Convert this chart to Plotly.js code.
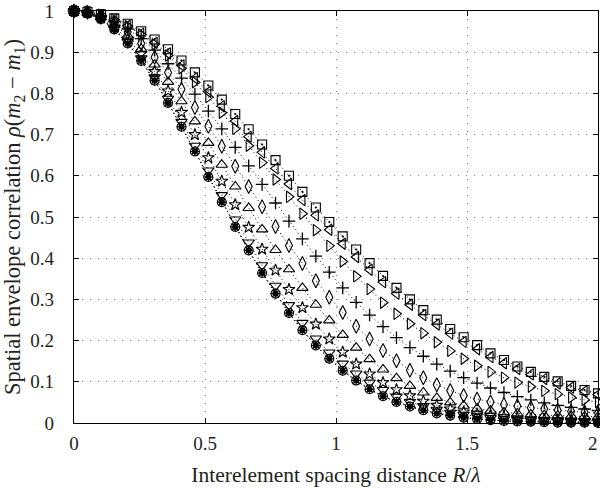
<!DOCTYPE html>
<html>
<head>
<meta charset="utf-8">
<script src="https://cdn.plot.ly/plotly-3.0.1.min.js"></script>
<style>html,body{margin:0;padding:0;background:#fff;}#chart{width:600px;height:491px;}</style>
</head>
<body>
<div id="chart"></div>
<script>
// Interelement spacing R/lambda (40 equally spaced samples from 0 to 2)
var spacing = [0, 0.0513, 0.1026, 0.1538, 0.2051, 0.2564, 0.3077, 0.359, 0.4103, 0.4615,
  0.5128, 0.5641, 0.6154, 0.6667, 0.7179, 0.7692, 0.8205, 0.8718, 0.9231, 0.9744,
  1.0256, 1.0769, 1.1282, 1.1795, 1.2308, 1.2821, 1.3333, 1.3846, 1.4359, 1.4872,
  1.5385, 1.5897, 1.641, 1.6923, 1.7436, 1.7949, 1.8462, 1.8974, 1.9487, 2.0];

// Envelope correlation curves, lowest to highest
var corrCircle = [1, 0.995, 0.98, 0.955, 0.921, 0.879, 0.831, 0.777, 0.719, 0.659,
  0.597, 0.536, 0.476, 0.419, 0.364, 0.314, 0.267, 0.225, 0.188, 0.156,
  0.127, 0.103, 0.082, 0.065, 0.051, 0.04, 0.031, 0.023, 0.018, 0.013,
  0.01, 0.007, 0.005, 0.004, 0.003, 0.002, 0.001, 0.001, 0.001, 0.0];
var corrTriDown = [1, 0.995, 0.981, 0.957, 0.925, 0.885, 0.839, 0.787, 0.731, 0.673,
  0.613, 0.553, 0.494, 0.438, 0.383, 0.333, 0.286, 0.243, 0.205, 0.171,
  0.144, 0.12, 0.098, 0.08, 0.064, 0.051, 0.041, 0.032, 0.025, 0.02,
  0.016, 0.012, 0.009, 0.007, 0.006, 0.005, 0.004, 0.003, 0.003, 0.002];
var corrStar = [1, 0.996, 0.983, 0.961, 0.932, 0.896, 0.853, 0.806, 0.754, 0.7,
  0.644, 0.587, 0.53, 0.475, 0.422, 0.371, 0.324, 0.28, 0.24, 0.204,
  0.172, 0.143, 0.119, 0.098, 0.081, 0.066, 0.053, 0.043, 0.034, 0.027,
  0.022, 0.018, 0.015, 0.012, 0.01, 0.009, 0.008, 0.007, 0.006, 0.005];
var corrTriUp = [1, 0.996, 0.985, 0.966, 0.94, 0.908, 0.87, 0.828, 0.781, 0.732,
  0.68, 0.627, 0.574, 0.522, 0.47, 0.42, 0.373, 0.328, 0.287, 0.249,
  0.214, 0.183, 0.155, 0.13, 0.109, 0.09, 0.074, 0.061, 0.05, 0.042,
  0.035, 0.03, 0.026, 0.023, 0.021, 0.019, 0.018, 0.017, 0.016, 0.015];
var corrDiamond = [1, 0.997, 0.987, 0.971, 0.949, 0.921, 0.888, 0.851, 0.81, 0.766,
  0.72, 0.672, 0.623, 0.574, 0.525, 0.477, 0.431, 0.387, 0.345, 0.305,
  0.268, 0.235, 0.204, 0.176, 0.151, 0.128, 0.11, 0.093, 0.079, 0.067,
  0.058, 0.051, 0.045, 0.041, 0.037, 0.034, 0.031, 0.028, 0.026, 0.024];
var corrPlus = [1, 0.997, 0.989, 0.975, 0.956, 0.933, 0.905, 0.872, 0.837, 0.798,
  0.757, 0.714, 0.669, 0.624, 0.579, 0.534, 0.49, 0.447, 0.405, 0.366,
  0.328, 0.293, 0.262, 0.234, 0.207, 0.183, 0.162, 0.143, 0.126, 0.11,
  0.097, 0.085, 0.074, 0.064, 0.056, 0.049, 0.043, 0.038, 0.034, 0.03];
var corrTriRight = [1, 0.998, 0.991, 0.979, 0.963, 0.943, 0.919, 0.892, 0.861, 0.827,
  0.791, 0.753, 0.714, 0.673, 0.632, 0.591, 0.549, 0.508, 0.468, 0.43,
  0.392, 0.356, 0.325, 0.292, 0.265, 0.241, 0.218, 0.196, 0.175, 0.156,
  0.139, 0.124, 0.11, 0.098, 0.088, 0.078, 0.07, 0.062, 0.056, 0.051];
var corrTriLeft = [1, 0.997, 0.99, 0.979, 0.964, 0.945, 0.923, 0.897, 0.868, 0.837,
  0.804, 0.769, 0.733, 0.695, 0.657, 0.618, 0.58, 0.541, 0.504, 0.469,
  0.435, 0.403, 0.372, 0.342, 0.314, 0.287, 0.262, 0.239, 0.217, 0.197,
  0.179, 0.16, 0.145, 0.131, 0.118, 0.107, 0.096, 0.086, 0.077, 0.069];
var corrSquare = [1, 0.998, 0.992, 0.982, 0.969, 0.951, 0.931, 0.907, 0.88, 0.851,
  0.819, 0.785, 0.75, 0.713, 0.676, 0.638, 0.6, 0.561, 0.523, 0.488,
  0.453, 0.421, 0.388, 0.357, 0.328, 0.3, 0.274, 0.251, 0.228, 0.208,
  0.189, 0.169, 0.153, 0.137, 0.124, 0.112, 0.101, 0.09, 0.08, 0.072];

var xTicks = [0, 0.5, 1, 1.5, 2];
var xTickText = ['0', '0.5', '1', '1.5', ''];
var xLastTickText = '2';
var yTicks = [0, 0.1, 0.2, 0.3, 0.4, 0.5, 0.6, 0.7, 0.8, 0.9, 1];
var yTickText = ['0', '0.1', '0.2', '0.3', '0.4', '0.5', '0.6', '0.7', '0.8', '0.9', '1'];

function series(y, symbol, size, width) {
  return {
    x: spacing, y: y, type: 'scatter', mode: 'lines+markers', cliponaxis: false,
    line: {color: '#000', width: 1, dash: '1px,3px'},
    marker: {symbol: symbol, size: size, color: '#000', line: {color: '#000', width: width || 1.1}},
    hoverinfo: 'skip'
  };
}

var data = [
  series(corrSquare, 'square-open-dot', 9),
  series(corrTriLeft, 'triangle-left-open', 10),
  series(corrTriRight, 'triangle-right-open', 10),
  series(corrPlus, 'cross-thin-open', 9, 1.3),
  series(corrDiamond, 'diamond-tall-open', 10),
  series(corrTriUp, 'triangle-up-open', 10),
  series(corrStar, 'star-open', 9),
  series(corrTriDown, 'triangle-down-open', 10),
  series(corrCircle, 'circle-open', 9),
  series(corrCircle, 'asterisk-open', 8),
  series(corrCircle, 'circle', 5)
];

var fontFam = '"Liberation Serif", "DejaVu Serif", serif';
var txtColor = '#231f20';
var layout = {
  width: 600, height: 491,
  margin: {l: 74, r: 2, t: 11, b: 68},
  paper_bgcolor: '#fff', plot_bgcolor: '#fff',
  showlegend: false,
  font: {family: fontFam, size: 19, color: txtColor},
  xaxis: {
    range: [0, 2], tickvals: xTicks, ticktext: xTickText,
    ticks: 'inside', ticklen: 5, tickcolor: '#000', tickwidth: 1,
    showline: true, linecolor: '#000', linewidth: 1.2, mirror: 'allticks',
    showgrid: true, gridcolor: '#888', gridwidth: 1, griddash: '1px,7px',
    zeroline: false, ticklabelstandoff: 3,
    tickfont: {family: fontFam, size: 19, color: txtColor},
    title: {text: 'Interelement spacing distance <i>R</i>/<i>λ</i>', font: {family: fontFam, size: 21.5, color: txtColor}, standoff: 14}
  },
  yaxis: {
    range: [0, 1], tickvals: yTicks, ticktext: yTickText,
    ticks: 'inside', ticklen: 5, tickcolor: '#000', tickwidth: 1,
    showline: true, linecolor: '#000', linewidth: 1.2, mirror: 'allticks',
    showgrid: true, gridcolor: '#888', gridwidth: 1, griddash: '1px,7px',
    zeroline: false, ticklabelstandoff: 15, ticklabeloverflow: 'allow',
    tickfont: {family: fontFam, size: 19, color: txtColor},
    title: {text: 'Spatial envelope correlation <i>ρ</i>(<i>m</i><sub>2</sub> − <i>m</i><sub>1</sub>)', font: {family: fontFam, size: 22.5, color: txtColor}, standoff: 4}
  },
  annotations: [{
    text: xLastTickText, xref: 'paper', yref: 'paper', x: 1, y: 0,
    xanchor: 'right', yanchor: 'middle', xshift: 1.5, yshift: -20, showarrow: false,
    font: {family: fontFam, size: 19, color: txtColor}
  }]
};

Plotly.newPlot('chart', data, layout, {staticPlot: true, displayModeBar: false});
</script>
</body>
</html>
